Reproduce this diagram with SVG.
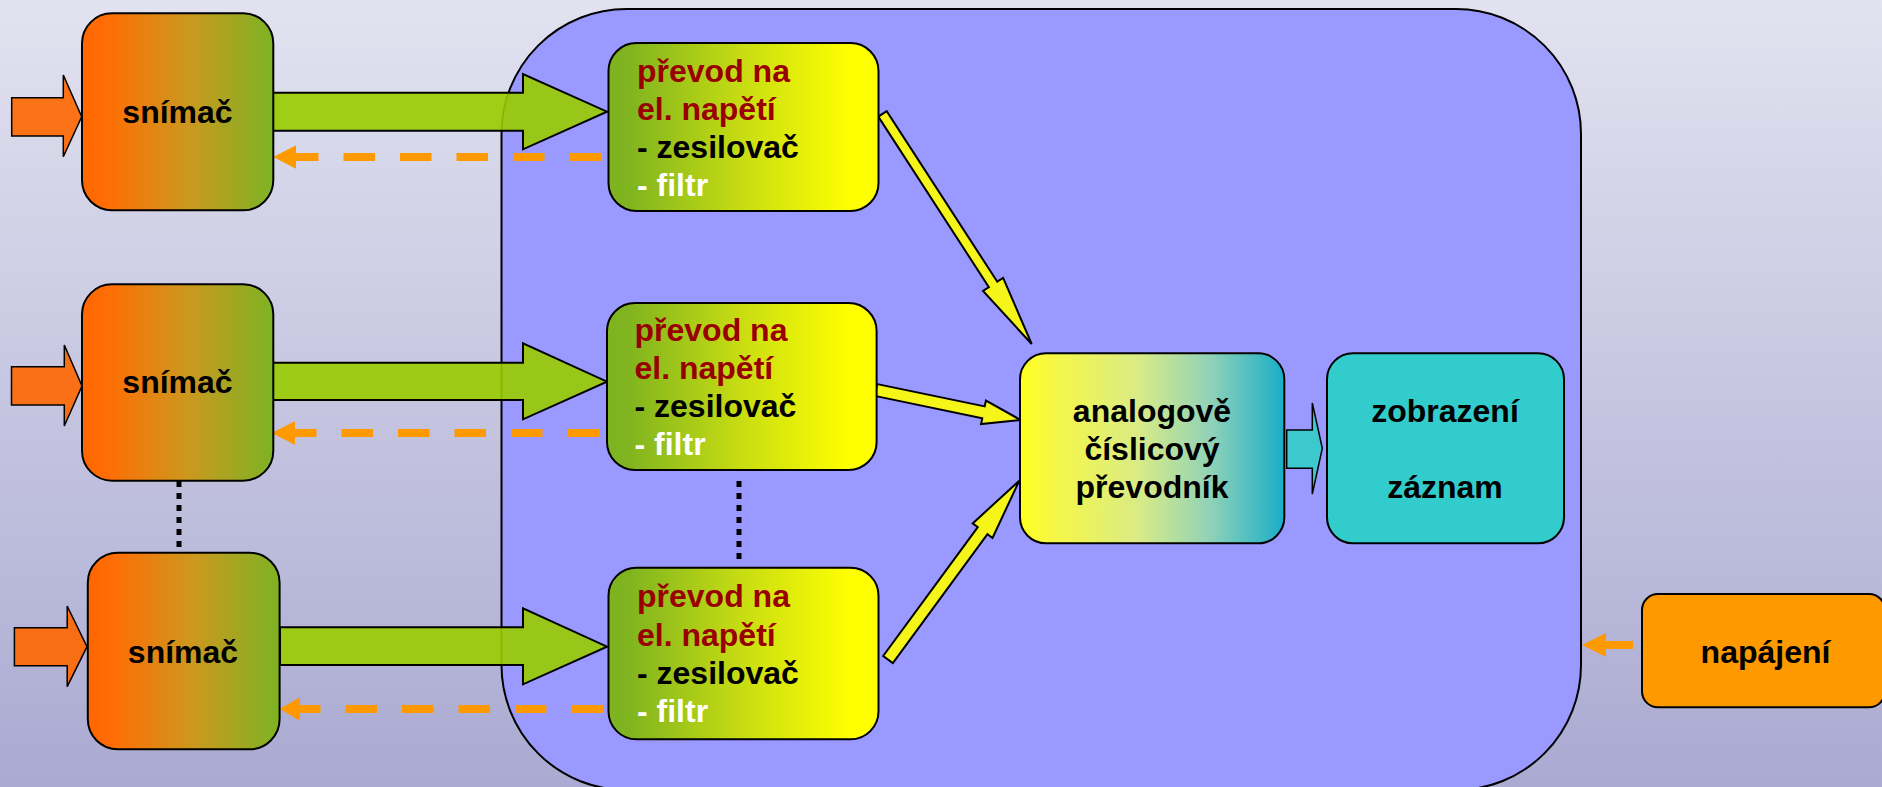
<svg xmlns="http://www.w3.org/2000/svg" width="1882" height="787" viewBox="0 0 1882 787">
<defs>
<linearGradient id="bg" x1="0" y1="0" x2="0" y2="1">
<stop offset="0" stop-color="#E2E2F0"/>
<stop offset="1" stop-color="#AAAAD2"/>
</linearGradient>
<linearGradient id="gSn" x1="0" y1="0" x2="1" y2="0">
<stop offset="0" stop-color="#FF6600"/>
<stop offset="0.13" stop-color="#FF6D04"/>
<stop offset="0.55" stop-color="#CC981E"/>
<stop offset="1" stop-color="#7DB324"/>
</linearGradient>
<linearGradient id="gPr" x1="0" y1="0" x2="1" y2="0">
<stop offset="0" stop-color="#7DB321"/>
<stop offset="0.08" stop-color="#80B41F"/>
<stop offset="0.5" stop-color="#C8DD12"/>
<stop offset="0.9" stop-color="#FFFF00"/>
<stop offset="1" stop-color="#FFFF00"/>
</linearGradient>
<linearGradient id="gAdc" x1="0" y1="0" x2="1" y2="0">
<stop offset="0" stop-color="#FFFF1E"/>
<stop offset="0.1" stop-color="#F8F840"/>
<stop offset="0.45" stop-color="#D9EB86"/>
<stop offset="0.72" stop-color="#90D2B8"/>
<stop offset="1" stop-color="#18AEC8"/>
</linearGradient>
<style>
.box{stroke:#000;stroke-width:2}
.t{font-family:"Liberation Sans",Arial,sans-serif;font-weight:bold;font-size:32px;fill:#000}
.c{text-anchor:middle}
.red{fill:#990000}
.wh{fill:#FFFFFF}
.green{fill:#99CC00;fill-opacity:0.9;stroke:#000;stroke-width:2}
.inp{fill:#FF6600;fill-opacity:0.9;stroke:#000;stroke-width:1.5}
.yel{fill:#FFFF00;fill-opacity:0.9;stroke:#000;stroke-width:2;stroke-linejoin:miter}
.dash{stroke:#FF9900;stroke-width:8;fill:none;stroke-dasharray:31.5 25}
.ohead{fill:#FF9900}
.dot{stroke:#000;stroke-width:5;stroke-dasharray:6 6;fill:none}
</style>
</defs>
<rect x="0" y="0" width="1882" height="787" fill="url(#bg)"/>
<g id="container">
<rect x="501.5" y="9" width="1079.5" height="781" rx="125" ry="125" fill="#9999FF" stroke="#000" stroke-width="2"/>
</g>
<g id="connectors">
<polygon class="inp" points="11.7,97.7 63.3,97.7 63.3,75 81.7,116.7 63.3,156.7 63.3,136 11.7,136"/>
<polygon class="inp" points="11.5,366.7 64.3,366.7 64.3,345 82,386 64.3,426 64.3,405 11.5,405"/>
<polygon class="inp" points="14.4,627.7 67.2,627.7 67.2,606 87,646.7 67.2,686.7 67.2,665.7 14.4,665.7"/>
<polygon class="green" points="273,92.7 523,92.7 523,74 607,111.7 523,149.3 523,130.7 273,130.7"/>
<polygon class="green" points="273,362.7 523,362.7 523,343.3 607,381.7 523,419.3 523,400 273,400"/>
<polygon class="green" points="280,627.3 523,627.3 523,608.3 607,646.7 523,684.3 523,665 280,665"/>
<path class="dash" d="M601,157 H296"/>
<polygon class="ohead" points="273.3,157 296,145.3 296,168.7"/>
<path class="dash" d="M599,433 H294"/>
<polygon class="ohead" points="271.5,433 295,421.3 295,444.7"/>
<path class="dash" d="M603,709 H300"/>
<polygon class="ohead" points="279.6,709 300,697.3 300,720.7"/>
<path class="dot" d="M179,481 V552"/>
<path class="dot" d="M739,481 V563"/>
<polygon class="yel" points="878.30,116.62 988.87,287.14 983.00,290.95 1031.7,344 1003.14,277.89 997.27,281.70 886.70,111.18"/>
<polygon class="yel" points="874.78,395.88 982.27,418.17 981.05,424.04 1020.7,420 985.93,400.54 984.71,406.42 877.22,384.12"/>
<polygon class="yel" points="892.84,663.05 987.44,534.22 992.51,537.95 1019.3,480.7 972.69,523.39 977.76,527.12 883.16,655.95"/>
<polygon fill="#3CC8CC" stroke="#000" stroke-width="1.5" points="1286.7,430 1312.3,430 1312.3,403 1322.3,448.3 1312.3,494 1312.3,468.3 1286.7,468.3"/>
<polygon class="ohead" points="1633,641 1606,641 1606,633 1582,645 1606,657 1606,649 1633,649"/>
</g>
<g id="snimac1">
<rect class="box" x="82" y="13.3" width="191.3" height="197" rx="30" fill="url(#gSn)"/>
<text class="t c" x="177.5" y="123">snímač</text>
</g>
<g id="snimac2">
<rect class="box" x="82" y="284.3" width="191.3" height="196.4" rx="30" fill="url(#gSn)"/>
<text class="t c" x="177.5" y="393">snímač</text>
</g>
<g id="snimac3">
<rect class="box" x="87.8" y="552.7" width="191.8" height="196.6" rx="30" fill="url(#gSn)"/>
<text class="t c" x="183" y="663">snímač</text>
</g>
<g id="prevod1">
<rect class="box" x="608.5" y="43" width="270" height="168" rx="28" fill="url(#gPr)"/>
<text class="t red" x="637" y="82">převod na</text>
<text class="t red" x="637" y="119.5">el. napětí</text>
<text class="t" x="637" y="157.5">- zesilovač</text>
<text class="t wh" x="637" y="195.5">- filtr</text>
</g>
<g id="prevod2">
<rect class="box" x="607" y="303" width="269.6" height="167" rx="28" fill="url(#gPr)"/>
<text class="t red" x="634.5" y="341">převod na</text>
<text class="t red" x="634.5" y="379">el. napětí</text>
<text class="t" x="634.5" y="417">- zesilovač</text>
<text class="t wh" x="634.5" y="455">- filtr</text>
</g>
<g id="prevod3">
<rect class="box" x="608.5" y="567.7" width="270" height="171.6" rx="28" fill="url(#gPr)"/>
<text class="t red" x="637" y="607">převod na</text>
<text class="t red" x="637" y="646">el. napětí</text>
<text class="t" x="637" y="684">- zesilovač</text>
<text class="t wh" x="637" y="722">- filtr</text>
</g>
<g id="adc">
<rect class="box" x="1020" y="353.3" width="264.3" height="190" rx="26" fill="url(#gAdc)"/>
<text class="t c" x="1152" y="421.5">analogově</text>
<text class="t c" x="1152" y="459.5">číslicový</text>
<text class="t c" x="1152" y="497.5">převodník</text>
</g>
<g id="zobrazeni">
<rect class="box" x="1327" y="353.3" width="237" height="190" rx="26" fill="#33CCCC"/>
<text class="t c" x="1445" y="421.5">zobrazení</text>
<text class="t c" x="1445" y="497.5">záznam</text>
</g>
<g id="napajeni">
<rect class="box" x="1642" y="594" width="243" height="113.3" rx="16" fill="#FF9900"/>
<text class="t c" x="1765.5" y="663">napájení</text>
</g>
</svg>
